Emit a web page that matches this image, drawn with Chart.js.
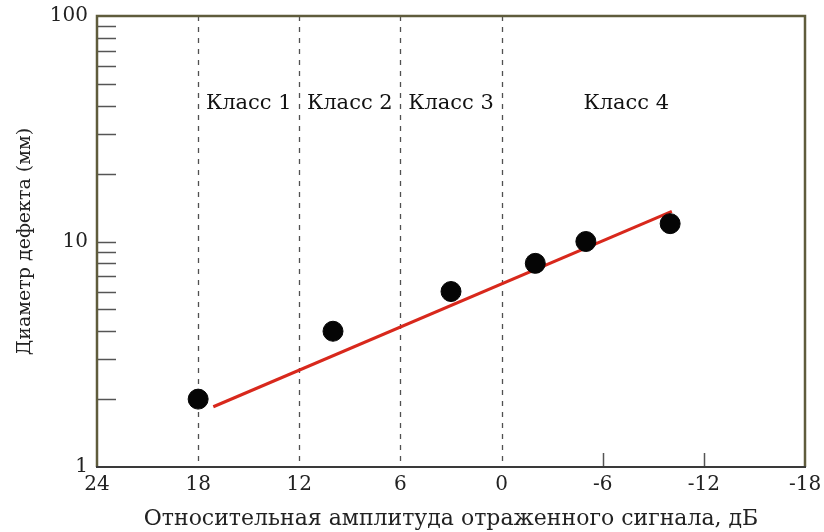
<!DOCTYPE html>
<html>
<head>
<meta charset="utf-8">
<script src="https://cdn.jsdelivr.net/npm/chart.js@4"></script>
<style>
  html, body { margin: 0; padding: 0; background: #fff; }
  #wrap { width: 824px; height: 532px; }
</style>
</head>
<body>
<div id="wrap"><canvas id="c" width="824" height="532"></canvas></div>
<script>
// Measured points: relative echo amplitude (dB) vs defect diameter (mm)
const amplitudeDb = [18, 10, 3, -2, -5, -10];
const defectDiameterMm = [2, 4, 6, 8, 10, 12];

// Regression line end points
const trendDb = [17.1, -10.1];
const trendMm = [1.85, 13.6];

// Class boundaries and class captions
const classBoundsDb = [18, 12, 6, 0];
const classNames = ['Класс 1', 'Класс 2', 'Класс 3', 'Класс 4'];
const classLabelDb = [15, 9, 3, -7.4];
const classLabelMm = 41;

// Axis ticks
const xTickValues = [24, 18, 12, 6, 0, -6, -12, -18];
const xShortTicks = [-6, -12];
const yLabelValues = [1, 10, 100];
const yMinorTicks = [2, 3, 4, 5, 6, 7, 8, 9, 10, 20, 30, 40, 50, 60, 70, 80, 90];

const SERIF = '"DejaVu Serif", "Liberation Serif", serif';

const decorations = {
  id: 'decorations',
  beforeDatasetsDraw(chart) {
    const { ctx, chartArea: a, scales: { x, y } } = chart;
    ctx.save();

    // dashed class boundaries
    ctx.strokeStyle = '#505050';
    ctx.lineWidth = 1.3;
    ctx.setLineDash([5, 6]);
    classBoundsDb.forEach(v => {
      const px = Math.round(x.getPixelForValue(v)) + 0.5;
      ctx.beginPath();
      ctx.moveTo(px, a.top);
      ctx.lineTo(px, a.bottom);
      ctx.stroke();
    });
    ctx.setLineDash([]);

    // short ticks on the x axis
    ctx.strokeStyle = '#555';
    ctx.lineWidth = 1.5;
    xShortTicks.forEach(v => {
      const px = Math.round(x.getPixelForValue(v)) + 0.5;
      ctx.beginPath();
      ctx.moveTo(px, a.bottom);
      ctx.lineTo(px, a.bottom - 14);
      ctx.stroke();
    });

    // minor ticks on the log axis
    yMinorTicks.forEach(v => {
      const py = Math.round(y.getPixelForValue(v)) + 0.5;
      ctx.beginPath();
      ctx.moveTo(a.left, py);
      ctx.lineTo(a.left + 19, py);
      ctx.stroke();
    });

    // frame
    ctx.lineWidth = 2.5;
    ctx.strokeStyle = '#5f5c3c';
    ctx.beginPath();
    ctx.moveTo(a.left, a.bottom);
    ctx.lineTo(a.left, a.top);
    ctx.lineTo(a.right, a.top);
    ctx.lineTo(a.right, a.bottom);
    ctx.stroke();
    ctx.strokeStyle = '#3a3a3a';
    ctx.lineWidth = 2;
    ctx.beginPath();
    ctx.moveTo(a.left - 1, a.bottom);
    ctx.lineTo(a.right + 1, a.bottom);
    ctx.stroke();

    // class captions
    ctx.fillStyle = '#111';
    ctx.font = '21px ' + SERIF;
    ctx.textAlign = 'center';
    ctx.textBaseline = 'middle';
    classNames.forEach((t, i) => {
      ctx.fillText(t, x.getPixelForValue(classLabelDb[i]), y.getPixelForValue(classLabelMm));
    });
    ctx.restore();
  }
};

new Chart(document.getElementById('c'), {
  type: 'scatter',
  data: {
    datasets: [
      {
        type: 'line',
        data: trendDb.map((v, i) => ({ x: v, y: trendMm[i] })),
        borderColor: '#d8281c',
        borderWidth: 3,
        pointRadius: 0,
        fill: false,
        order: 2
      },
      {
        data: amplitudeDb.map((v, i) => ({ x: v, y: defectDiameterMm[i] })),
        backgroundColor: '#050505',
        borderColor: '#050505',
        pointRadius: 10,
        pointHoverRadius: 10,
        order: 1
      }
    ]
  },
  options: {
    responsive: false,
    animation: false,
    events: [],
    layout: { padding: { top: 16, right: 19, left: 0, bottom: 0 } },
    plugins: { legend: { display: false }, tooltip: { enabled: false } },
    scales: {
      x: {
        type: 'linear',
        min: -18,
        max: 24,
        reverse: true,
        grid: { display: false, drawTicks: false },
        border: { display: false },
        afterBuildTicks: s => { s.ticks = xTickValues.map(v => ({ value: v })); },
        afterFit: s => { s.height = 65; s.paddingLeft = 0; s.paddingRight = 0; },
        ticks: {
          autoSkip: false,
          maxRotation: 0,
          padding: 6,
          color: '#222',
          font: { family: SERIF, size: 20 },
          callback: v => String(v)
        },
        title: {
          display: true,
          text: 'Относительная амплитуда отраженного сигнала, дБ',
          color: '#222',
          font: { family: SERIF, size: 22 },
          padding: { top: 0, bottom: 0 }
        }
      },
      y: {
        type: 'logarithmic',
        min: 1,
        max: 100,
        grid: { display: false, drawTicks: false },
        border: { display: false },
        afterBuildTicks: s => { s.ticks = yLabelValues.map(v => ({ value: v })); },
        afterFit: s => { s.width = 97; s.paddingTop = 0; s.paddingBottom = 0; },
        ticks: {
          autoSkip: false,
          padding: 9,
          color: '#222',
          font: { family: SERIF, size: 20 },
          callback: v => String(v)
        },
        title: {
          display: true,
          text: 'Диаметр дефекта (мм)',
          color: '#222',
          font: { family: SERIF, size: 19 },
          padding: { top: 14, bottom: 0 }
        }
      }
    }
  },
  plugins: [decorations]
});
</script>
</body>
</html>
